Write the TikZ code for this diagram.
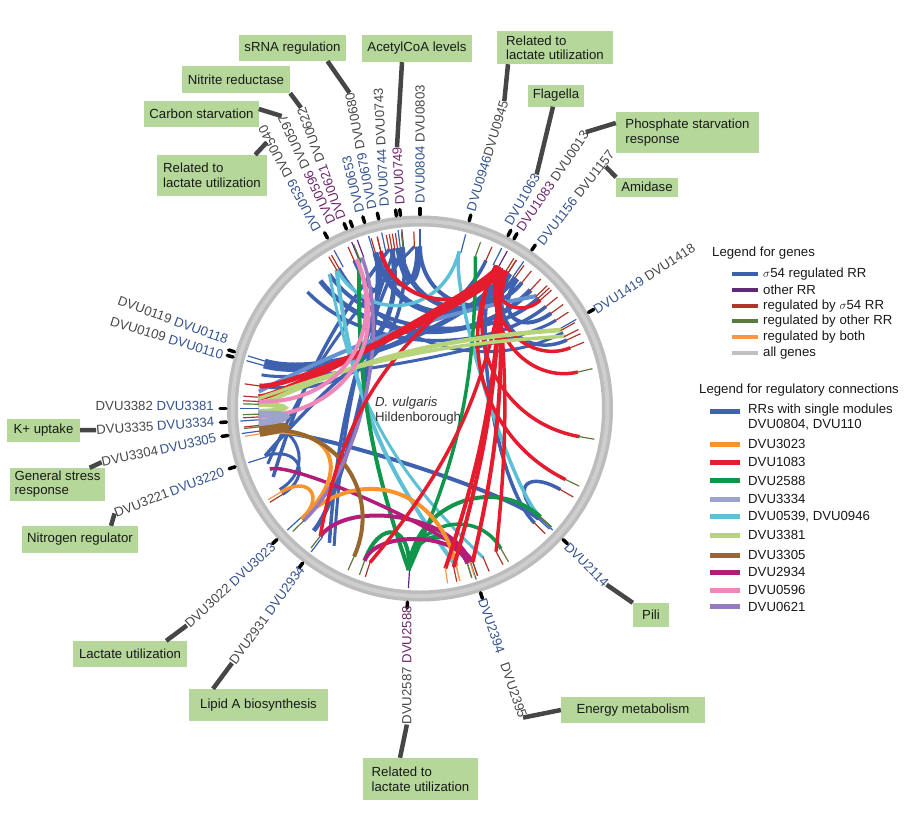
\documentclass[tikz,border=0pt]{standalone}
\usepackage{fontspec}
\setmainfont{Liberation Sans}
\usetikzlibrary{calc}
\definecolor{cBlue}{RGB}{63,98,176}
\definecolor{cSteel}{RGB}{100,145,210}
\definecolor{cOrange}{RGB}{247,148,46}
\definecolor{cRed}{RGB}{228,28,46}
\definecolor{cGreen}{RGB}{16,150,74}
\definecolor{cLav}{RGB}{156,163,204}
\definecolor{cCyan}{RGB}{94,192,214}
\definecolor{cYG}{RGB}{183,212,122}
\definecolor{cBrown}{RGB}{150,104,48}
\definecolor{cMag}{RGB}{176,30,122}
\definecolor{cPink}{RGB}{238,136,184}
\definecolor{cPurp}{RGB}{152,122,192}
\definecolor{gBlue}{RGB}{56,96,172}
\definecolor{gPurp}{RGB}{96,40,120}
\definecolor{gRed}{RGB}{176,52,42}
\definecolor{gGreen}{RGB}{92,122,62}
\definecolor{gOrange}{RGB}{245,150,72}
\definecolor{gGray}{RGB}{192,192,192}
\definecolor{tBlue}{RGB}{52,82,142}
\definecolor{tPurp}{RGB}{108,38,108}
\definecolor{tGray}{RGB}{72,72,72}
\definecolor{boxG}{RGB}{181,216,154}
\definecolor{leadC}{RGB}{70,70,70}
\definecolor{ringC}{RGB}{188,188,188}
\definecolor{ringL}{RGB}{206,206,206}
\newcommand{\lbB}[1]{\textcolor{tBlue}{#1}}
\newcommand{\lbP}[1]{\textcolor{tPurp}{#1}}
\newcommand{\lbG}[1]{\textcolor{tGray}{#1}}
\newcommand{\chd}[5]{%
  \draw[#3] ($(C)+(#1:162)$) .. controls ($(C)+(#1:{162*#4})$) and ($(C)+(#2:{162*#4})$) .. ($(C)+(#2:162)$);
  \draw[stub,#5] ($(C)+(#2:161)$) -- ($(C)+(#2:177)$);}
\newcommand{\chdb}[5]{%
  \draw[#3] ($(C)+(#1:162)$) to[#4] ($(C)+(#2:162)$);
  \draw[stub,#5] ($(C)+(#2:161)$) -- ($(C)+(#2:177)$);}
\begin{document}
\begin{tikzpicture}[x=1pt,y=1pt,
  chB/.style={draw=cBlue},
  chS/.style={draw=cSteel},
  chO/.style={draw=cOrange},
  chR/.style={draw=cRed},
  chG/.style={draw=cGreen},
  chL/.style={draw=cLav},
  chC/.style={draw=cCyan},
  chY/.style={draw=cYG},
  chW/.style={draw=cBrown},
  chM/.style={draw=cMag},
  chP/.style={draw=cPink},
  chU/.style={draw=cPurp},
  stub/.style={line width=1.2pt},
  tick/.style={line width=3.5pt, line cap=round, black},
  glab/.style={font=\fontsize{13.2}{15}\selectfont, inner sep=0pt},
  box/.style={fill=boxG, inner xsep=5pt, inner ysep=2pt, font=\fontsize{13.2}{15}\selectfont, text=black!90},
  leader/.style={line width=4.5pt, leadC},
  legt/.style={font=\fontsize{13.2}{15}\selectfont, inner sep=0pt, anchor=west, text=black!90},
  sw/.style={line width=4pt},
  sw2/.style={line width=5pt}]
\useasboundingbox (0,0) rectangle (916,-812);
\coordinate (C) at (420,-408.5);

% ring
\draw[line width=11pt, ringC] (C) circle[radius=187.5];
\draw[line width=4pt, ringL] (C) circle[radius=187.5];

% ticks
\foreach \a in {118.5,112.3,110.4,106.6,102.3,97,95.8,90,75.3,63,61,54.8,29.7,163,164.6,180,184,188,197.5,222.5,232.8,266.3,288.2,317.5}
  \draw[tick] ($(C)+(\a:194)$) -- ($(C)+(\a:200)$);

% source stubs
\foreach \a in {118.5,106.6,102.3,97,90,75.3,63,54.8,29.7,163,164.6,180,184,188,197.5,222.5,232.8,288.2,317.5}
  \draw[stub,gBlue] ($(C)+(\a:161)$) -- ($(C)+(\a:180)$);
\foreach \a in {112.3,110.4,95.8,61,266.3}
  \draw[stub,gPurp] ($(C)+(\a:161)$) -- ($(C)+(\a:180)$);

% blue chords
\chd{106}{57}{chB,line width=6pt}{0.55}{gRed}
\chd{97}{54}{chB,line width=5pt}{0.6}{gRed}
\chd{90}{51}{chB,line width=4pt}{0.65}{gRed}
\chd{128}{47}{chB,line width=5pt}{0.5}{gRed}
\chd{124}{43}{chB,line width=4pt}{0.55}{gRed}
\chd{134}{39}{chB,line width=3.5pt}{0.5}{gRed}
\chd{163}{58}{chB,line width=5pt}{0.6}{gRed}
\chd{165}{66}{chB,line width=3.5pt}{0.55}{gRed}
\chd{163.5}{100}{chB,line width=5pt}{0.45}{gRed}
\chd{168}{33}{chB,line width=3pt}{0.7}{gRed}
\chd{172}{96}{chB,line width=3.5pt}{0.4}{gRed}
\chdb{197}{57}{chB,line width=3.5pt}{bend left=12}{gRed}
\chdb{205}{101}{chB,line width=3.5pt}{bend left=10}{gRed}
\chdb{200}{92}{chB,line width=3pt}{bend left=10}{gRed}
\chd{229}{106}{chB,line width=4.5pt}{0.7}{gRed}
\chdb{236}{96}{chB,line width=3.5pt}{bend left=10}{gGreen}
\chdb{238}{99}{chB,line width=3pt}{bend left=8}{gRed}
\chd{188}{317}{chB,line width=4pt}{0.75}{gBlue}
\chd{62}{315}{chB,line width=3.5pt}{0.65}{gRed}
\chd{318}{330}{chB,line width=3.5pt}{0.75}{gRed}
\chd{90}{98}{chB,line width=4pt}{0.72}{gRed}
\chd{91}{104}{chB,line width=4pt}{0.7}{gRed}
\chd{106}{114}{chB,line width=3.5pt}{0.7}{gRed}
\chd{28}{120}{chB,line width=3pt}{0.45}{gRed}
\chd{197}{212}{chB,line width=3pt}{0.78}{gRed}
\chd{53}{36}{chB,line width=4pt}{0.75}{gRed}
\chd{56}{25}{chB,line width=3.5pt}{0.7}{gRed}
\chd{210}{186}{chB,line width=3pt}{0.75}{gRed}
\chdb{174}{44}{chS,line width=4pt}{bend left=8}{gRed}

% cyan chords
\chdb{121}{283}{chC,line width=4pt}{bend right=15}{gOrange}
\chd{76}{121}{chC,line width=3.5pt}{0.6}{gRed}
\chd{76}{318}{chC,line width=3.5pt}{0.75}{gRed}
\chdb{124}{293}{chC,line width=3pt}{bend right=18}{gRed}

% green chords
\chdb{266}{112}{chG,line width=4pt}{bend left=10}{gGreen}
\chdb{266}{70}{chG,line width=3.5pt}{bend right=12}{gGreen}
\chd{266}{318}{chG,line width=4pt}{0.6}{gGreen}
\chd{266}{300}{chG,line width=3.5pt}{0.7}{gGreen}
\chd{266}{287}{chG,line width=4pt}{0.75}{gGreen}
\chd{266}{250}{chG,line width=4pt}{0.72}{gGreen}

% magenta chords
\chd{232}{288}{chM,line width=4pt}{0.7}{gOrange}
\chd{250}{287}{chM,line width=4pt}{0.8}{gGreen}
\chd{202}{289}{chM,line width=3.5pt}{0.85}{gGreen}

% orange chords
\chd{223}{189}{chO,line width=4pt}{0.55}{gOrange}
\chd{223}{283}{chO,line width=4pt}{0.5}{gOrange}
\chd{223}{211}{chO,line width=3.5pt}{0.8}{gOrange}

% brown chords
\chd{188}{246}{chW,line width=4pt}{0.55}{gGreen}
\chd{189}{186.5}{chW,line width=6pt}{0.78}{gGreen}

% purple chord
\chd{111}{224}{chU,line width=3.5pt}{0.5}{gGreen}

% red chords
\chd{61}{176}{chR,line width=6pt}{0.85}{gRed}
\chd{59}{172}{chR,line width=5pt}{0.8}{gRed}
\chd{60}{104}{chR,line width=4pt}{0.65}{gRed}
\chdb{58}{252}{chR,line width=3.5pt}{bend left=15}{gRed}
\chdb{60}{279}{chR,line width=4pt}{bend left=8}{gOrange}
\chdb{60}{282}{chR,line width=4pt}{bend left=7}{gRed}
\chdb{61}{289}{chR,line width=4pt}{bend left=8}{gRed}
\chdb{62}{298}{chR,line width=3.5pt}{bend left=6}{gRed}
\chd{62}{334}{chR,line width=3.5pt}{0.45}{gGreen}
\chd{62}{350}{chR,line width=3.5pt}{0.5}{gGreen}
\chd{60}{22}{chR,line width=3.5pt}{0.7}{gRed}
\chd{58}{13}{chR,line width=3.5pt}{0.65}{gGreen}
\chdb{60}{232}{chR,line width=3.5pt}{bend right=24}{gGreen}
\chd{61}{42}{chR,line width=3.5pt}{0.8}{gRed}

% yellow-green chords
\chdb{179}{29}{chY,line width=4.5pt}{bend left=10}{gRed}
\chdb{176.5}{26.5}{chY,line width=3.5pt}{bend left=8}{gRed}
\chd{181}{178.5}{chY,line width=5pt}{0.78}{gGreen}

% pink chords
\chd{113}{183}{chP,line width=4pt}{0.45}{gRed}
\chd{113}{177.5}{chP,line width=4pt}{0.5}{gRed}

% lavender chord
\chd{185}{182}{chL,line width=7pt}{0.78}{gGreen}

% centre text
\node[legt, text=black!80] (dv) at (375,-402.7) {\textit{D. vulgaris}};
\node[legt, text=black!80] (hb) at (375,-418.3) {Hildenborough};

% gene labels, reading outward
\node[glab,rotate=118,anchor=west] (l0539) at ($(C)+(120:205)$) {\lbB{DVU0539} \lbG{DVU0540}};
\node[glab,rotate=115,anchor=west] (l0596) at ($(C)+(115.5:205)$) {\lbP{DVU0596} \lbG{DVU0597}};
\node[glab,rotate=110,anchor=west] (l0621) at ($(C)+(112.5:205)$) {\lbP{DVU0621} \lbG{DVU0622}};
\node[glab,rotate=104,anchor=west] (l0653) at ($(C)+(107:205)$) {\lbB{DVU0653}};
\node[glab,rotate=101,anchor=west] (l0679) at ($(C)+(103.5:205)$) {\lbB{DVU0679} \lbG{DVU0680}};
\node[glab,rotate=93,anchor=west] (l0744) at ($(C)+(100:205)$) {\lbB{DVU0744} \lbG{DVU0743}};
\node[glab,rotate=93,anchor=west] (l0749) at ($(C)+(95.6:205)$) {\lbP{DVU0749}};
\node[glab,rotate=90,anchor=west] (l0804) at ($(C)+(90:205)$) {\lbB{DVU0804} \lbG{DVU0803}};
\node[glab,rotate=73,anchor=west] (l0946) at ($(C)+(75.6:204)$) {\lbB{DVU0946}\lbG{DVU0945}};
\node[glab,rotate=60,anchor=west] (l1063) at ($(C)+(64.5:204)$) {\lbB{DVU1063}};
\node[glab,rotate=56,anchor=west] (l1083) at ($(C)+(60.8:204)$) {\lbP{DVU1083} \lbG{DVU0013}};
\node[glab,rotate=52,anchor=west] (l1156) at ($(C)+(54:204)$) {\lbB{DVU1156} \lbG{DVU1157}};
\node[glab,rotate=33,anchor=west] (l1419) at ($(C)+(29.2:200)$) {\lbB{DVU1419} \lbG{DVU1418}};
\node[glab,rotate=-71,anchor=west] (l2394) at ($(C)+(288.1:200)$) {\lbB{DVU2394}\hspace{11pt}\lbG{DVU2395}};
\node[glab,rotate=-45,anchor=west] (l2114) at ($(C)+(317.1:200)$) {\lbB{DVU2114}};
% gene labels, reading inward
\node[glab,rotate=-20,anchor=east] (l0118) at ($(C)+(160.4:204)$) {\lbG{DVU0119} \lbB{DVU0118}};
\node[glab,rotate=-17,anchor=east] (l0110) at ($(C)+(164.9:204)$) {\lbG{DVU0109} \lbB{DVU0110}};
\node[glab,rotate=0,anchor=east] (l3381) at ($(C)+(179.3:206)$) {\lbG{DVU3382} \lbB{DVU3381}};
\node[glab,rotate=4,anchor=east] (l3334) at ($(C)+(183.7:206)$) {\lbG{DVU3335} \lbB{DVU3334}};
\node[glab,rotate=12,anchor=east] (l3305) at ($(C)+(188.2:206)$) {\lbG{DVU3304}\,\lbB{DVU3305}};
\node[glab,rotate=21,anchor=east] (l3220) at ($(C)+(197.8:206)$) {\lbG{DVU3221}\,\lbB{DVU3220}};
\node[glab,rotate=43,anchor=east] (l3023) at ($(C)+(222.9:200)$) {\lbG{DVU3022} \lbB{DVU3023}};
\node[glab,rotate=54,anchor=east] (l2934) at ($(C)+(233.3:198)$) {\lbG{DVU2931} \lbB{DVU2934}};
\node[glab,rotate=90,anchor=east] (l2588) at ($(C)+(266.2:198)$) {\lbG{DVU2587} \lbP{DVU2588}};

% annotation boxes
\node[box, minimum width=105pt, minimum height=26pt] (srna) at (292.5,-48) {sRNA regulation};
\node[box, minimum width=108pt, minimum height=27pt] (acetyl) at (417,-48.5) {AcetylCoA levels};
\node[box, minimum width=108pt, minimum height=27pt] (nitrite) at (236,-79.5) {Nitrite reductase};
\node[box, minimum width=113pt, minimum height=26pt] (carbon) at (201.5,-114) {Carbon starvation};
\node[box, align=left, minimum width=110pt, minimum height=41pt] (rel1) at (212,-175.5) {Related to\\lactate utilization};
\node[box, align=left, minimum width=116pt, minimum height=33pt] (rel2) at (555,-47.5) {Related to\\[-1pt]lactate utilization};
\node[box, minimum width=56pt, minimum height=22pt] (flagella) at (556,-95.5) {Flagella};
\node[box, align=left, minimum width=143pt, minimum height=41pt] (phosphate) at (687.5,-132.5) {Phosphate starvation\\response};
\node[box, minimum width=60pt, minimum height=19pt] (amidase) at (647,-187) {Amidase};
\node[box, minimum width=73pt, minimum height=23pt] (kplus) at (43.5,-430) {K+ uptake};
\node[box, align=left, minimum width=93pt, minimum height=33pt] (stress) at (57.5,-484.5) {General stress\\[-1pt]response};
\node[box, minimum width=114pt, minimum height=27pt] (nitrogen) at (80,-539.5) {Nitrogen regulator};
\node[box, minimum width=114pt, minimum height=26pt] (lactate) at (130,-654) {Lactate utilization};
\node[box, minimum width=139pt, minimum height=32pt] (lipid) at (258.5,-705) {Lipid A biosynthesis};
\node[box, align=left, minimum width=115pt, minimum height=42pt] (rel3) at (420.5,-779) {Related to\\lactate utilization};
\node[box, minimum width=144pt, minimum height=26pt] (energy) at (633,-710) {Energy metabolism};
\node[box, minimum width=36pt, minimum height=24pt] (pili) at (651,-615) {Pili};

% leader lines
\draw[leader] (l0596.east) -- ([yshift=5pt]carbon.east);
\draw[leader] (l0621.east) -- (nitrite.south east);
\draw[leader] (l0679.east) -- ([xshift=35pt]srna.south);
\draw[leader] (l0749.east) -- ([xshift=-15pt]acetyl.south);
\draw[leader] ([shift={(5pt,-16pt)}]l0539.east) -- ([xshift=-12pt]rel1.north east);
\draw[leader] (l0946.east) -- ([xshift=-47pt]rel2.south);
\draw[leader] (l1063.east) -- ([xshift=-3pt]flagella.south);
\draw[leader] (l1083.east) -- ([yshift=9.5pt]phosphate.west);
\draw[leader] ([shift={(-6pt,-15pt)}]l1156.east) -- (amidase.north west);
\draw[leader] (kplus.east) -- (l3334.west);
\draw[leader] ([xshift=-16pt]stress.north east) -- (l3305.west);
\draw[leader] ([xshift=-27pt]nitrogen.north east) -- (l3220.west);
\draw[leader] ([xshift=-21pt]lactate.north east) -- (l3023.west);
\draw[leader] ([xshift=-45.5pt]lipid.north) -- (l2934.west);
\draw[leader] ([xshift=-20.5pt]rel3.north) -- (l2588.west);
\draw[leader] (l2394.east) -- (energy.west);
\draw[leader] (l2114.east) -- (pili.north west);

% legend for genes
\node[legt] (lgg) at (712,-253) {Legend for genes};
\draw[sw,gBlue] (732,-274) -- (758,-274);
\node[legt] (lg1) at (763,-274) {$\sigma$54 regulated RR};
\draw[sw,gPurp] (732,-290) -- (758,-290);
\node[legt] (lg2) at (763,-290) {other RR};
\draw[sw,gRed] (732,-306) -- (758,-306);
\node[legt] (lg3) at (763,-306) {regulated by $\sigma$54 RR};
\draw[sw,gGreen] (732,-321) -- (758,-321);
\node[legt] (lg4) at (763,-321) {regulated by other RR};
\draw[sw,gOrange] (732,-337) -- (758,-337);
\node[legt] (lg5) at (763,-337) {regulated by both};
\draw[sw,gGray] (732,-353) -- (758,-353);
\node[legt] (lg6) at (763,-353) {all genes};

% legend for regulatory connections
\node[legt] (lgc) at (699,-390) {Legend for regulatory connections};
\draw[sw2,cBlue] (710,-411.5) -- (740,-411.5);
\node[legt, align=left, anchor=north west] (lc1) at (748,-404) {RRs with single modules\\DVU0804, DVU110};
\draw[sw2,cOrange] (710,-444.3) -- (740,-444.3);
\node[legt] (lc2) at (748,-444.3) {DVU3023};
\draw[sw2,cRed] (710,-462.3) -- (740,-462.3);
\node[legt] (lc3) at (748,-462.3) {DVU1083};
\draw[sw2,cGreen] (710,-480.7) -- (740,-480.7);
\node[legt] (lc4) at (748,-480.7) {DVU2588};
\draw[sw2,cLav] (710,-499) -- (740,-499);
\node[legt] (lc5) at (748,-499) {DVU3334};
\draw[sw2,cCyan] (710,-516.7) -- (740,-516.7);
\node[legt] (lc6) at (748,-516.7) {DVU0539, DVU0946};
\draw[sw2,cYG] (710,-535) -- (740,-535);
\node[legt] (lc7) at (748,-535) {DVU3381};
\draw[sw2,cBrown] (710,-555) -- (740,-555);
\node[legt] (lc8) at (748,-555) {DVU3305};
\draw[sw2,cMag] (710,-572.3) -- (740,-572.3);
\node[legt] (lc9) at (748,-572.3) {DVU2934};
\draw[sw2,cPink] (710,-590) -- (740,-590);
\node[legt] (lc10) at (748,-590) {DVU0596};
\draw[sw2,cPurp] (710,-606.7) -- (740,-606.7);
\node[legt] (lc11) at (748,-606.7) {DVU0621};
\end{tikzpicture}
\end{document}
